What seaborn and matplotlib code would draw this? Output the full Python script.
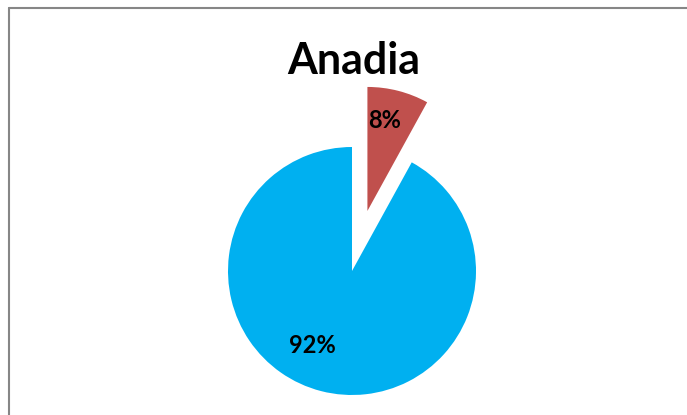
import numpy as np
import matplotlib.pyplot as plt
import seaborn as sns
from matplotlib.lines import Line2D

labels = ["Outros", "Anadia"]
shares = [8, 92]
colors = ["#C0504D", "#00B0F0"]
title = "Anadia"

sns.set_theme(style="white")
plt.rcParams['font.family'] = ['Lato', 'DejaVu Sans']

fig = plt.figure(figsize=(6.87, 4.15), dpi=100)
ax = fig.add_axes([0, 0, 1, 1])

wedges, texts, autotexts = ax.pie(
    shares, colors=colors, startangle=90, counterclock=False,
    explode=[0.5, 0], autopct='%1.0f%%', pctdistance=0.72,
    wedgeprops=dict(linewidth=0), radius=1,
    textprops=dict(fontsize=17, fontweight='bold', color='black'))

# pixel layout: pie centre (352, 271), radius 124 px
r_px = 124
cx, cy = 352, 271
ax.set_xlim(-cx / r_px, (687 - cx) / r_px)
ax.set_ylim(-(415 - cy) / r_px, cy / r_px)
ax.set_aspect('equal')
ax.axis('off')

# label placement like the original
x0, y0 = autotexts[0].get_position()
autotexts[0].set_position((x0 - 0.04, y0 + 0.03))
ang = np.deg2rad(-118)
autotexts[1].set_position((0.68 * np.cos(ang), 0.68 * np.sin(ang)))

ax.text(0.015, (cy - 61) / r_px, title, ha='center', va='center',
        fontsize=31, fontweight='bold', color='black')

# chart frame (left and top edges visible)
fig.add_artist(Line2D([8.5 / 687, 8.5 / 687], [0, 1 - 8.5 / 415],
                      transform=fig.transFigure, color='#868686', lw=1.5))
fig.add_artist(Line2D([8.5 / 687, 1], [1 - 8.5 / 415, 1 - 8.5 / 415],
                      transform=fig.transFigure, color='#868686', lw=1.5))

fig.savefig('out.png', dpi=100)
